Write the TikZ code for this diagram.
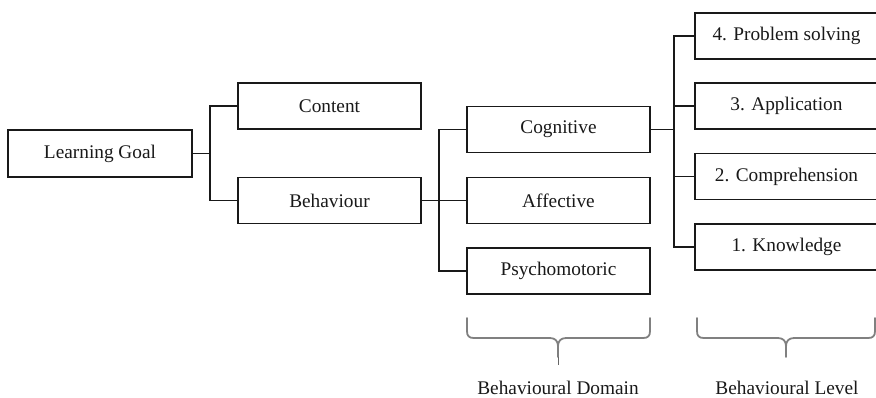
\documentclass[tikz,border=0pt]{standalone}
\usepackage{fontspec}
\setmainfont{Liberation Serif}
\begin{document}
\begin{tikzpicture}[x=1pt,y=-1pt,
  box/.style={draw=black!90, line width=1.8pt, minimum width=183pt, minimum height=46pt,
    inner sep=0pt, font=\fontsize{19.3}{23}\selectfont, text=black!90},
  link/.style={draw=black!90, line width=1.7pt},
  bracepath/.style={draw=black!50, line width=1.8pt, line cap=round, line join=round},
  caption/.style={font=\fontsize{19.3}{23}\selectfont, text=black!90, anchor=base, inner sep=0pt}]
\useasboundingbox (0,0) rectangle (876,397);
\clip (0,0) rectangle (876,397);
\fill[white] (0,0) rectangle (876,397);

% goal and its two parts
\node[box, minimum width=184pt, minimum height=47pt] (goal) at (100,153.5) {Learning Goal};
\node[box] (content) at (329.5,106) {Content};
\node[box] (behav) at (329.5,200.5) {Behaviour};

% behavioural domains
\node[box] (cog) at (558.5,129.5) {Cognitive};
\node[box] (aff) at (558.5,200.5) {Affective};
\node[box] (psy) at (558.5,271) {Psychomotoric};

% behavioural levels
\node[box] (l4) at (786.5,36) {4. Problem solving};
\node[box] (l3) at (786.5,106) {3. Application};
\node[box] (l2) at (786.5,176.5) {2. Comprehension};
\node[box] (l1) at (786.5,247) {1. Knowledge};

% connectors
\draw[link] (goal.east) -- ++(17,0) coordinate (jg);
\draw[link] (content.west) -| (jg) |- (behav.west);
\draw[link] (behav.east) -- ++(17,0) coordinate (jb);
\draw[link] (cog.west) -| (jb) |- (psy.west);
\draw[link] (jb) -- (aff.west);
\draw[link] (cog.east) -- ++(23,0) coordinate (jc);
\draw[link] (l4.west) -| (jc) |- (l1.west);
\draw[link] (l3.west) -| (jc);
\draw[link] (l2.west) -| (jc);

% curly braces under the columns
\coordinate (dL) at (467,318);
\coordinate (dR) at (650,318);
\coordinate (dT) at (558,357);
\draw[bracepath] (dL) -- (467,331) .. controls (467,336) and (469,338) .. (474,338)
  -- (550,338) .. controls (555,338) and (558,341) .. (558,346) -- (dT);
\draw[bracepath] (dR) -- (650,331) .. controls (650,336) and (648,338) .. (643,338)
  -- (566,338) .. controls (561,338) and (558,341) .. (558,346);
\draw[black!60, line width=0.6pt] (dT) -- (558,365);

\coordinate (vL) at (697,318);
\coordinate (vR) at (875,318);
\coordinate (vT) at (786,357);
\draw[bracepath] (vL) -- (697,331) .. controls (697,336) and (699,338) .. (704,338)
  -- (778,338) .. controls (783,338) and (786,341) .. (786,346) -- (vT);
\draw[bracepath] (vR) -- (875,331) .. controls (875,336) and (873,338) .. (868,338)
  -- (794,338) .. controls (789,338) and (786,341) .. (786,346);

\node[caption] (domcap) at (558,394) {Behavioural Domain};
\node[caption] (levcap) at (787,394) {Behavioural Level};
\end{tikzpicture}
\end{document}
